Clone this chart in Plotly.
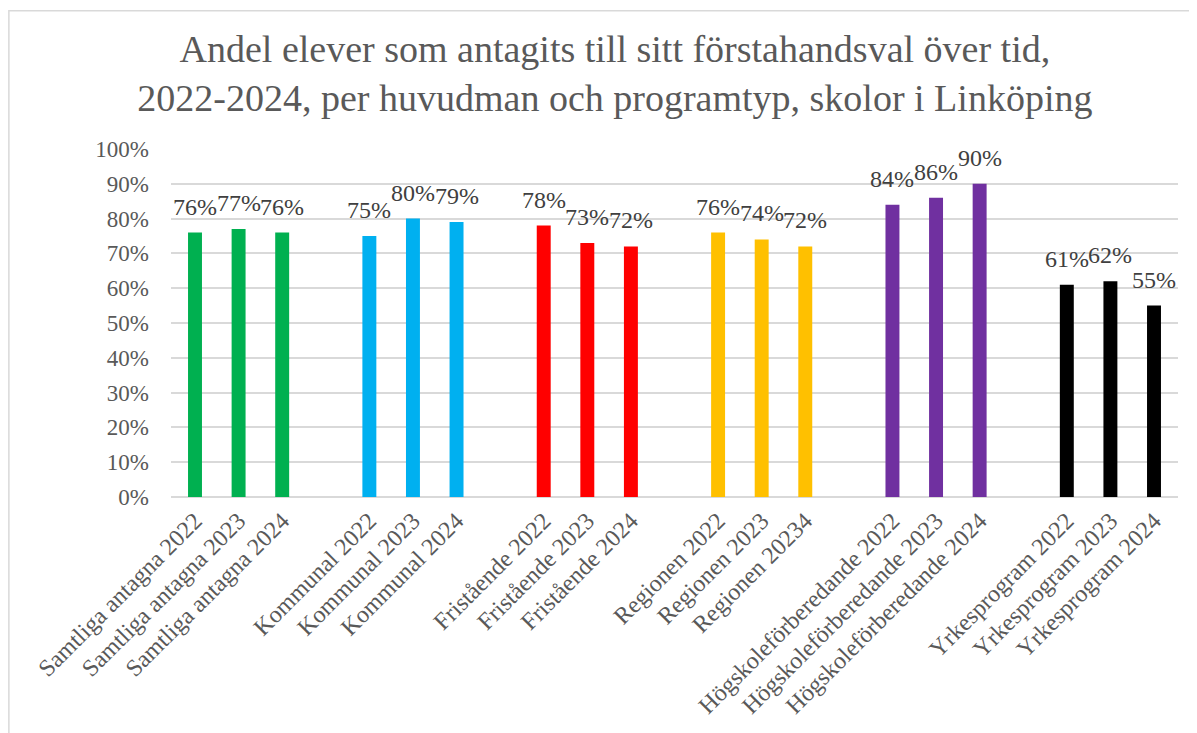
import plotly.graph_objects as go

# grupper (huvudman / programtyp) och år
groups = ['Samtliga antagna', 'Kommunal', 'Fristående', 'Regionen',
          'Högskoleförberedande', 'Yrkesprogram']
labels = [
    ['Samtliga antagna 2022', 'Samtliga antagna 2023', 'Samtliga antagna 2024'],
    ['Kommunal 2022', 'Kommunal 2023', 'Kommunal 2024'],
    ['Fristående 2022', 'Fristående 2023', 'Fristående 2024'],
    ['Regionen 2022', 'Regionen 2023', 'Regionen 20234'],
    ['Högskoleförberedande 2022', 'Högskoleförberedande 2023', 'Högskoleförberedande 2024'],
    ['Yrkesprogram 2022', 'Yrkesprogram 2023', 'Yrkesprogram 2024'],
]
values = [
    [76, 77, 76],
    [75, 80, 79],
    [78, 73, 72],
    [76, 74, 72],
    [84, 86, 90],
    [61, 62, 55],
]
colors = ['#00B050', '#00B0F0', '#FF0000', '#FFC000', '#7030A0', '#000000']

# bygg kategorier med en tom kategori mellan grupperna
x, y, c = [], [], []
for i, (lab, val, col) in enumerate(zip(labels, values, colors)):
    if i > 0:
        x.append(' ' * i)
        y.append(None)
        c.append(col)
    x += lab
    y += val
    c += [col] * len(val)

serif = 'Liberation Serif, Times New Roman, serif'

fig = go.Figure(go.Bar(
    x=x, y=y, marker_color=c, marker_line_width=0,
    hoverinfo='x+y', showlegend=False,
))

# dataetiketter ovanför staplarna
for xi, yi in zip(x, y):
    if yi is None:
        continue
    fig.add_annotation(x=xi, y=yi, text=f'{yi}%', showarrow=False,
                       yanchor='middle', yshift=26,
                       font=dict(family=serif, size=24, color='#404040'))

fig.update_layout(
    width=1197, height=733,
    margin=dict(l=163, r=27, t=141, b=244),
    paper_bgcolor='white', plot_bgcolor='white',
    bargap=0.68,
    title=dict(
        text='Andel elever som antagits till sitt förstahandsval över tid,<br>'
             '2022-2024, per huvudman och programtyp, skolor i Linköping',
        x=0.507, xanchor='center', y=0.927, yanchor='top',
        font=dict(family=serif, size=38, color='#595959'),
    ),
    font=dict(family=serif, color='#595959'),
    # ram runt diagramytan
    shapes=[dict(type='rect', xref='paper', yref='paper',
                 x0=-0.161, x1=1.1, y0=-0.8, y1=1.397,
                 line=dict(color='#D9D9D9', width=1.5), layer='below')],
)
fig.update_yaxes(
    range=[0, 100], dtick=10, ticksuffix='%', automargin=False,
    showgrid=True, gridcolor='#D9D9D9', gridwidth=1.5,
    zeroline=True, zerolinecolor='#D9D9D9', zerolinewidth=1.5,
    tickfont=dict(family=serif, size=23, color='#595959'),
    ticklabelstandoff=21,
)
fig.update_xaxes(
    type='category', tickangle=-45, showgrid=False, automargin=False,
    tickfont=dict(family=serif, size=24, color='#595959'),
    ticklabelstandoff=4,
)

fig.write_html('out.html')
